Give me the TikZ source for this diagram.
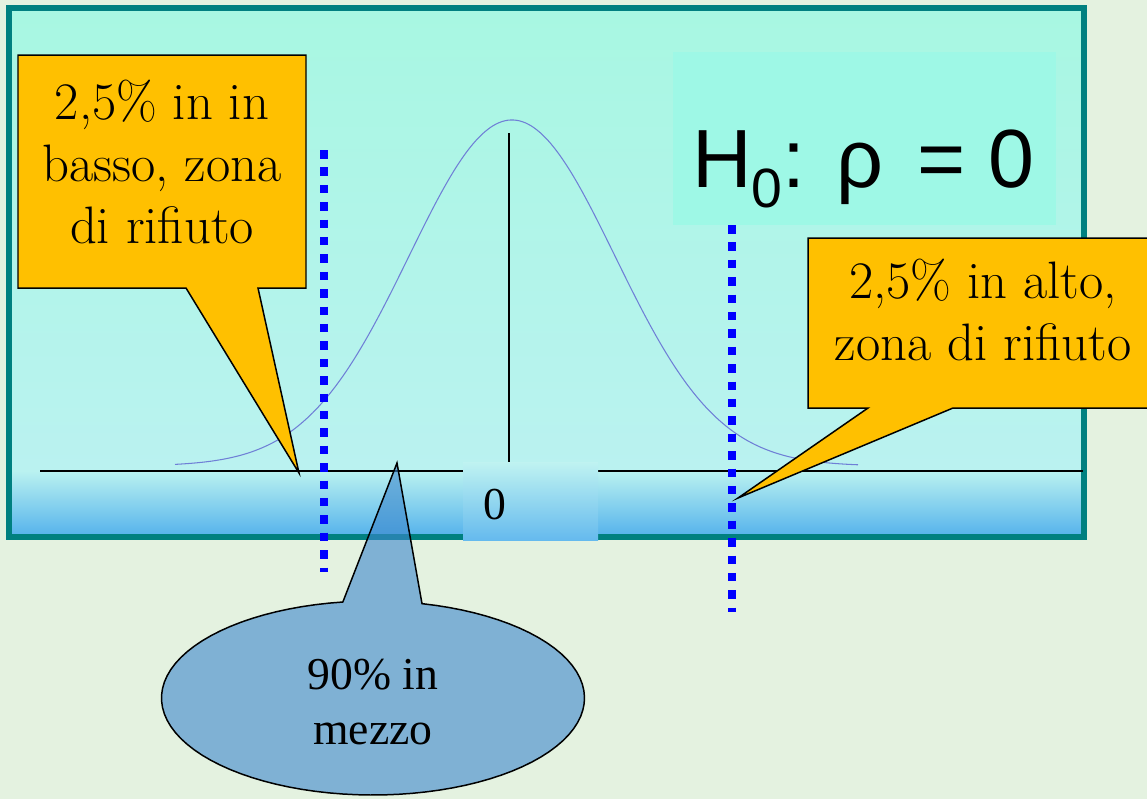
\documentclass[tikz,border=0pt]{standalone}
\usepackage{fontspec}
\newfontfamily\timesfont{Liberation Serif}
\newfontfamily\arialfont{Liberation Sans}
\usetikzlibrary{positioning, calc}

\begin{document}
\begin{tikzpicture}[x=0.02cm, y=-0.02cm,
  fumetto/.style={fill=arancio, draw=black, line width=0.85pt, line join=miter},
  puntini/.style={draw=blupunti, line width=0.16cm, dash pattern=on 0.17cm off 0.178cm},
  testo/.style={align=center, font=\fontsize{30}{35.5}\selectfont, inner sep=0pt}]
% --- CORI E SFUMATURE ---
\definecolor{carta}{HTML}{E4F2E0}
\definecolor{menta}{HTML}{A8F7E2}
\definecolor{ciano}{HTML}{BAF2F0}
\definecolor{bluband}{HTML}{58B4EC}
\definecolor{cornice}{HTML}{008080}
\definecolor{ipobox}{HTML}{9EF8E6}
\definecolor{arancio}{HTML}{FFC000}
\definecolor{curva}{HTML}{6F7FD6}
\definecolor{blupunti}{HTML}{0000FF}
\definecolor{bluellisse}{HTML}{3C87CC}

% LAYER 0: sfondo e cornice
\useasboundingbox (0,0) rectangle (1147,799);
\clip (0,0) rectangle (1147,799);
\fill[carta] (0,0) rectangle (1147,799);
\shade[top color=menta, bottom color=ciano] (12,11) rectangle (1081,471);
\shade[top color=ciano, middle color=ciano!75!bluband, bottom color=bluband] (12,471) rectangle (1081,534);
\draw[line width=0.12cm, color=cornice] (9,8) rectangle (1084,537);
\fill[ipobox] (673,52) rectangle (1056,225);

% LAYER 1: curva normale
\draw[color=curva, line width=0.6pt, domain=175:858, samples=120, smooth] plot (\x, {466-346*exp(-0.5*((\x-512)/103)^2)});

% LAYER 2: asse e zero
\draw[line width=1.1pt] (40,471) -- (463,471);
\draw[line width=1.1pt] (598,471) -- (1083,471);
\draw[line width=0.8pt] (509,133) -- (509,462);
\shade[top color=ciano!92!white, middle color=ciano!75!bluband!92!white, bottom color=bluband!92!white] (463,462) rectangle (598,540);
\node[font=\timesfont\fontsize{26}{30}\selectfont, anchor=base, inner sep=0pt] (zero) at (495,519) {0};

% LAYER 3: ipotesi nulla
\node[anchor=base west, inner sep=0pt, font=\arialfont\fontsize{47}{56}\selectfont] (ipotesi) at (692,187)
  {H\raisebox{-11.4pt}{\fontsize{31.5}{32}\selectfont 0}: ρ\hspace{0.41em}= 0};

% LAYER 4: limiti tratteggiati
\draw[puntini] (324,150) -- (324,572);
\draw[puntini] (732,225) -- (732,612);

% LAYER 5: fumetti
\coordinate (puntaSx) at (299,473);
\draw[fumetto] (18,55) -- (306,55) -- (306,288) -- (258,288) -- (puntaSx) -- (186,288) -- (18,288) -- cycle;
\node[testo] (basso) at (162,162) {2,5\% in in\\basso, zona\\di rifiuto};

\coordinate (puntaDx) at (738,498);
\draw[fumetto] (808,238) -- (1170,238) -- (1170,408) -- (953,408) -- (puntaDx) -- (868,408) -- (808,408) -- cycle;
\node[testo] (alto) at (983,310) {2,5\% in alto,\\zona di rifiuto};

\coordinate (puntaMezzo) at (397,463);
\filldraw[fill=bluellisse, fill opacity=0.6, draw=black, line width=0.85pt]
  plot[domain=-76.6:261.8, samples=90] ({373+211.5*cos(\x)}, {698+97*sin(\x)}) -- (puntaMezzo) -- cycle;
\node[font=\timesfont\fontsize{26}{31.8}\selectfont, align=center] (mezzo) at (373,702) {90\% in\\mezzo};
\end{tikzpicture}
\end{document}
